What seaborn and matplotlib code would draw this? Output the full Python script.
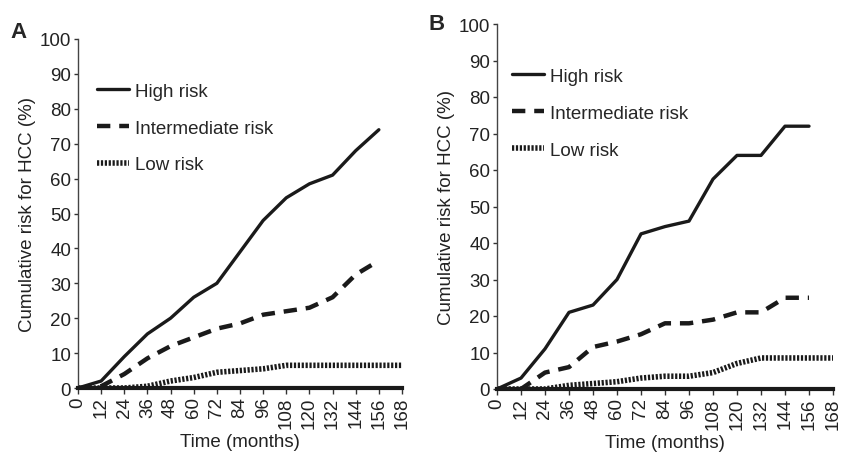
import numpy as np
import pandas as pd
import matplotlib
matplotlib.use("Agg")
import matplotlib.pyplot as plt
import seaborn as sns

# --- data ---
months = [0, 12, 24, 36, 48, 60, 72, 84, 96, 108, 120, 132, 144, 156, 168]

a_high = [0, 2, 9, 15.5, 20, 26, 30, 39, 48, 54.5, 58.5, 61, 68, 74]
a_inter = [0, 0.5, 4, 8.5, 12, 14.5, 17, 18.5, 21, 22, 23, 26, 32.5, 36.5]
a_low = [0, 0, 0, 0.5, 2, 3, 4.5, 5, 5.5, 6.5, 6.5, 6.5, 6.5, 6.5, 6.5]

b_high = [0, 3, 11, 21, 23, 30, 42.5, 44.5, 46, 57.5, 64, 64, 72, 72]
b_inter = [0, 0, 4.5, 6, 11.5, 13, 15, 18, 18, 19, 21, 21, 25, 25]
b_low = [0, 0, 0, 1, 1.5, 2, 3, 3.5, 3.5, 4.5, 7, 8.5, 8.5, 8.5, 8.5]

series_names = ["High risk", "Intermediate risk", "Low risk"]

sns.set_style("white")
plt.rcParams['font.family'] = ['Liberation Sans', 'DejaVu Sans']

fig = plt.figure(figsize=(8.41, 4.56), dpi=100)
ax_a = fig.add_axes([78 / 841, 1 - 389 / 456, 324 / 841, 349 / 456])
ax_b = fig.add_axes([497 / 841, 1 - 390 / 456, 336 / 841, 365 / 456])

styles = [
    dict(lw=2.4, ls="-"),
    dict(lw=3.2, ls=(0, (3, 2))),
    dict(lw=4.0, ls=(0, (0.4, 0.3))),
]

fs = 13.5


def draw(ax, values, lx, ly):
    for name, vals, st in zip(series_names, values, styles):
        sns.lineplot(x=months[:len(vals)], y=vals, ax=ax, color="#1a1a1a",
                     linewidth=st["lw"], linestyle=st["ls"], label=name)
    ax.set_xlim(0, 168)
    ax.set_ylim(0, 100)
    ax.set_xticks(months)
    ax.set_xticklabels([str(m) for m in months], rotation=90, fontsize=fs)
    ax.set_yticks(range(0, 101, 10))
    ax.tick_params(axis="y", labelsize=fs, length=3, width=1, direction="out",
                   left=True, color="#333333", pad=2, labelcolor="#222222")
    ax.tick_params(axis="x", length=4, width=1, direction="out", bottom=True,
                   color="#333333", pad=2, labelcolor="#222222")
    sns.despine(ax=ax)
    ax.spines["left"].set_color("#444444")
    ax.spines["left"].set_linewidth(1)
    ax.spines["bottom"].set_color("#1a1a1a")
    ax.spines["bottom"].set_linewidth(3)
    ax.set_xlabel("Time (months)", fontsize=fs, labelpad=4, color="#222222")
    ax.set_ylabel("Cumulative risk for HCC (%)", fontsize=fs, labelpad=3,
                  color="#222222")
    ax.legend(loc="upper left", bbox_to_anchor=(lx, ly), frameon=False,
              fontsize=fs, handlelength=1.7, labelspacing=1.05,
              handletextpad=0.3, borderpad=0, borderaxespad=0)


draw(ax_a, [a_high, a_inter, a_low], 0.06, 0.875)
draw(ax_b, [b_high, b_inter, b_low], 0.045, 0.88)
fig.text(10 / 841, 1 - 38 / 456, "A", fontsize=16, fontweight="bold")
fig.text(428 / 841, 1 - 30 / 456, "B", fontsize=16, fontweight="bold")

fig.savefig("out.png", dpi=100)
